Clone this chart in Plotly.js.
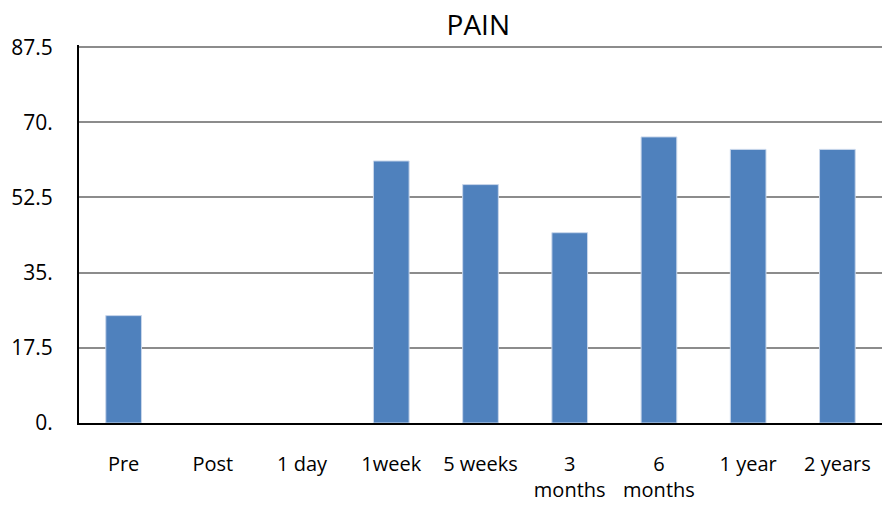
<!DOCTYPE html>
<html><head><meta charset="utf-8">
<script src="https://cdn.plot.ly/plotly-3.0.1.min.js"></script>
<style>html,body{margin:0;padding:0;background:#fff}</style>
</head><body>
<div id="chart" style="width:894px;height:509px"></div>
<script>
const categories = ["Pre", "Post", "1 day", "1week", "5 weeks", "3<br>months", "6<br>months", "1 year", "2 years"];
const painValues = [25, 0, 0, 61, 55.5, 44.3, 66.6, 63.7, 63.7];
const yTickVals = [0, 17.5, 35, 52.5, 70, 87.5];
const yTickText = ["0.", "17.5", "35.", "52.5", "70.", "87.5"];

const font = "'Open Sans', 'Noto Sans', sans-serif";
Plotly.newPlot("chart", [{
  type: "bar",
  x: categories,
  y: painValues,
  marker: {color: "#4F81BD", line: {color: "#C9D7EB", width: painValues.map(v => v > 0 ? 1 : 0)}},
  hoverinfo: "skip"
}], {
  width: 894, height: 509,
  margin: {l: 79, r: 12, t: 45, b: 86},
  paper_bgcolor: "#fff", plot_bgcolor: "#fff",
  bargap: 0.6,
  showlegend: false,
  title: {text: "PAIN", font: {family: font, size: 28, color: "#000"}, x: 0.535, xanchor: "center", y: 0.95, yanchor: "middle"},
  xaxis: {
    type: "category",
    showline: true, linecolor: "#000", linewidth: 2,
    ticks: "", showgrid: false,
    tickfont: {family: font, size: 20, color: "#000"},
    ticklabelstandoff: 22
  },
  yaxis: {
    range: [0, 88],
    tickvals: yTickVals, ticktext: yTickText,
    showline: true, linecolor: "#000", linewidth: 2,
    showgrid: true, gridcolor: "#8C8C8C", gridwidth: 2,
    zeroline: false, ticks: "",
    tickfont: {family: font, size: 21, color: "#000"},
    ticklabelstandoff: 20
  }
}, {staticPlot: true});
</script>
</body></html>
